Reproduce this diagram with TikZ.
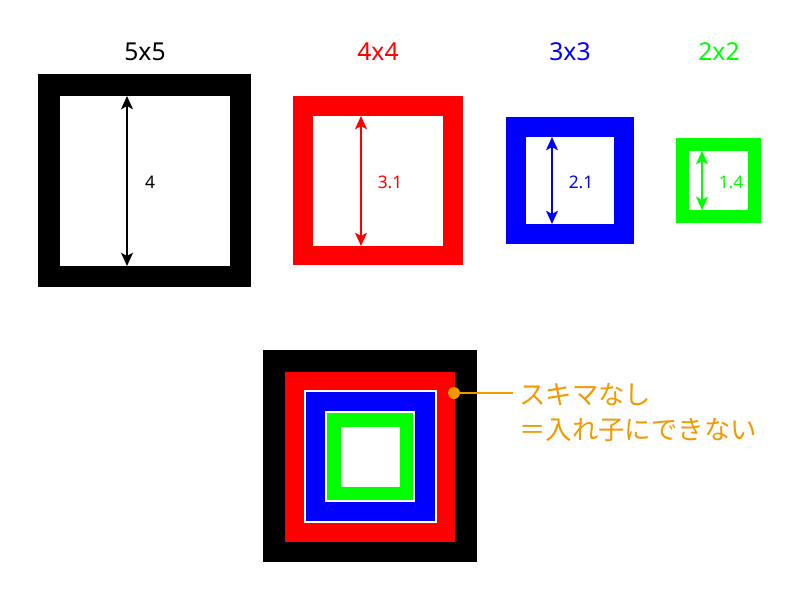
\documentclass[tikz,border=0pt]{standalone}
\usepackage{fontspec}
\usepackage{xcolor}
\usetikzlibrary{arrows.meta}
\setmainfont{Noto Sans}
\newfontfamily\jpfont{Noto Sans CJK JP}
\definecolor{sqred}{RGB}{255,0,0}
\definecolor{sqblue}{RGB}{0,0,255}
\definecolor{sqgreen}{RGB}{0,255,0}
\definecolor{noteorange}{RGB}{243,152,0}

\begin{document}
\begin{tikzpicture}[x=0.75pt,y=-0.75pt,
title/.style = {font=\fontsize{18.5}{20}\selectfont},
size/.style  = {font=\fontsize{13}{14}\selectfont},
measure/.style = {line width=1pt,{Stealth[length=10pt,width=9pt,inset=2.5pt]}-{Stealth[length=10pt,width=9pt,inset=2.5pt]}},
gap/.style = {draw=white,line width=1pt},
note/.style = {anchor=west,text=noteorange,inner sep=0pt,font=\jpfont\fontsize{19.8}{26}\selectfont}]
%\draw[help lines,step=50] (0,0) grid (800,600);
\useasboundingbox (0,0) rectangle (800,600);

% 5x5
\fill[black] (38,74) rectangle (251,287);
\fill[white] (60,96) rectangle (230,266);
\coordinate (b1) at (127,96);
\coordinate (b2) at (127,266);
\draw[measure,black] (b1) -- (b2);
\node[size,black] (lb) at (150,182) {4};
\node[title,black] (tb) at (145,52) {5x5};

% 4x4
\fill[sqred] (293,96) rectangle (463,265);
\fill[white] (313,116) rectangle (443,246);
\coordinate (r1) at (361,116);
\coordinate (r2) at (361,246);
\draw[measure,sqred] (r1) -- (r2);
\node[size,sqred] (lr) at (390,182) {3.1};
\node[title,sqred] (tr) at (378,52) {4x4};

% 3x3
\fill[sqblue] (506,117) rectangle (634,244);
\fill[white] (526,137) rectangle (614,224);
\coordinate (u1) at (552,137);
\coordinate (u2) at (552,224);
\draw[measure,sqblue] (u1) -- (u2);
\node[size,sqblue] (lu) at (581,182) {2.1};
\node[title,sqblue] (tu) at (570,52) {3x3};

% 2x2
\fill[sqgreen] (676,138) rectangle (761,223);
\fill[white] (689,151) rectangle (748,210);
\coordinate (g1) at (702,151);
\coordinate (g2) at (702,210);
\draw[measure,sqgreen] (g1) -- (g2);
\node[size,sqgreen] (lg) at (731,182) {1.4};
\node[title,sqgreen] (tg) at (719,52) {2x2};

% nested
\fill[black] (263,350) rectangle (477,562);
\fill[sqred] (285,372) rectangle (455,542);
\filldraw[sqblue,gap] (305,391) rectangle (436,522);
\filldraw[sqgreen,gap] (326,412) rectangle (414,501);
\fill[white] (341,427) rectangle (400,487);

% note
\coordinate (dot) at (454,393);
\coordinate (lineend) at (513,393);
\fill[noteorange] (dot) circle (6);
\node[note] (note1) at (519,395) {スキマなし};
\node[note] (note2) at (519,430) {＝入れ子にできない};
\draw[noteorange,line width=1.5pt] (dot) -- (lineend);
\end{tikzpicture}
\end{document}
